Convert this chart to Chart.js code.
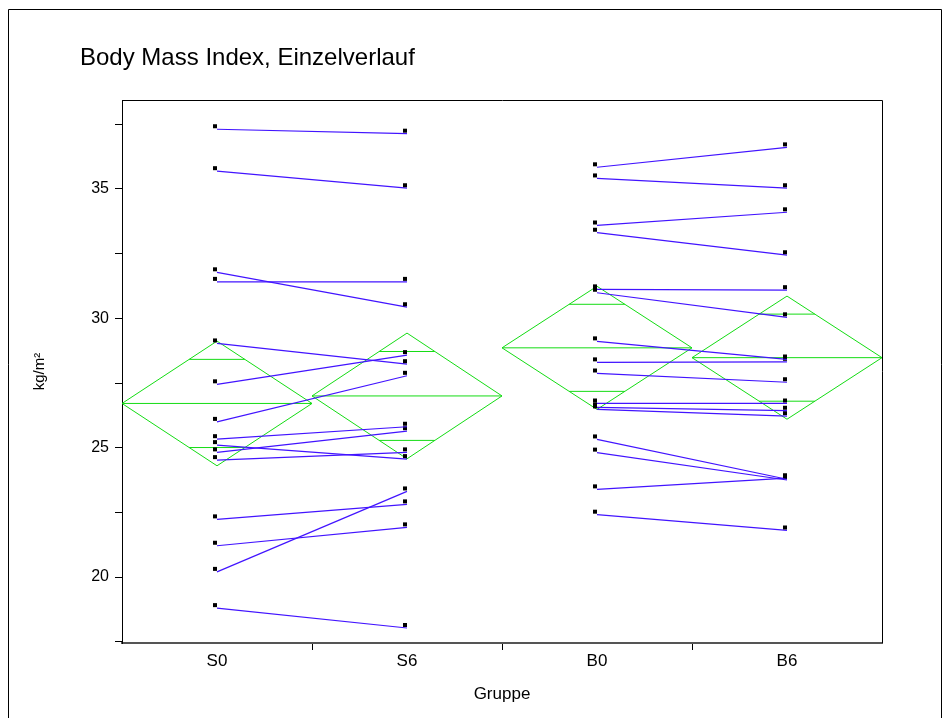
<!DOCTYPE html>
<html>
<head>
<meta charset="utf-8">
<script src="https://cdn.jsdelivr.net/npm/chart.js@4/dist/chart.umd.min.js"></script>
<style>
  html, body { margin: 0; padding: 0; background: #fff; }
  canvas { display: block; }
</style>
</head>
<body>
<canvas id="c" width="946" height="718"></canvas>
<script>
// Group labels along the x axis
const groups = ['S0', 'S6', 'B0', 'B6'];

// Individual BMI values (kg/m²), one entry per subject
const s0 = [37.31, 35.69, 31.78, 31.41, 29.03, 27.45, 26.00, 25.33, 25.10, 24.82, 24.52, 22.23, 21.21, 20.20, 18.80];
const s6 = [37.14, 35.03, 30.43, 31.41, 28.23, 28.58, 27.78, 25.81, 24.56, 25.64, 24.82, 22.81, 21.92, 23.31, 18.03];
const b0 = [35.84, 35.41, 33.59, 33.31, 31.12, 30.99, 29.11, 28.30, 27.87, 26.71, 26.56, 26.48, 25.32, 24.81, 23.39, 22.41];
const b6 = [36.61, 35.03, 34.10, 32.44, 31.09, 30.04, 28.41, 28.32, 27.53, 26.71, 26.43, 26.22, 23.78, 23.75, 23.82, 21.80];

// Group means with 95% confidence limits (means diamonds)
const groupMean = [26.71, 27.00, 28.86, 28.48];
const ciLow     = [24.30, 24.57, 26.48, 26.10];
const ciHigh    = [29.12, 29.43, 31.24, 30.86];

// Axis ticks
const yTicks = [17.5, 20, 22.5, 25, 27.5, 30, 32.5, 35, 37.5];
const yLabelled = [20, 25, 30, 35];
const xTicks = [0.5, 1, 1.5, 2, 2.5, 3, 3.5];

const FONT = "'Liberation Sans', Arial, Helvetica, sans-serif";
const BLUE = '#4214ff';
const GREEN = '#14dc14';

// Small black square marker, drawn slightly up and to the left of its point
const marker = document.createElement('canvas');
marker.width = 12; marker.height = 12;
(function () {
  const m = marker.getContext('2d');
  m.fillStyle = '#000';
  m.fillRect(2, 1, 4, 4);
})();

const datasets = [];

function addPairs(before, after, xa, xb) {
  before.forEach((v, i) => {
    datasets.push({
      data: [{ x: xa, y: v }, { x: xb, y: after[i] }],
      borderColor: BLUE,
      borderWidth: 1.2,
      pointStyle: marker,
      pointRadius: 4,
      order: 1
    });
  });
}
addPairs(s0, s6, 0.5, 1.5);
addPairs(b0, b6, 2.5, 3.5);

// Means diamonds: outline, centre line and overlap marks
groups.forEach((g, i) => {
  const m = groupMean[i], lo = ciLow[i], hi = ciHigh[i];
  datasets.push({
    data: [
      { x: i, y: m }, { x: i + 0.5, y: hi }, { x: i + 1, y: m },
      { x: i + 0.5, y: lo }, { x: i, y: m }, { x: i + 1, y: m }
    ],
    borderColor: GREEN,
    borderWidth: 1,
    pointRadius: 0,
    order: 2
  });
  const half = (hi - lo) / 2;
  const off = half / Math.SQRT2;
  const w = 0.5 * (1 - off / half);
  [m + off, m - off].forEach(yv => {
    datasets.push({
      data: [{ x: i + 0.5 - w, y: yv }, { x: i + 0.5 + w, y: yv }],
      borderColor: GREEN,
      borderWidth: 1,
      pointRadius: 0,
      order: 2
    });
  });
});

const framePlugin = {
  id: 'frame',
  beforeDraw(chart) {
    const ctx = chart.ctx;
    ctx.save();
    ctx.fillStyle = '#fff';
    ctx.fillRect(0, 0, chart.width, chart.height);
    ctx.restore();
  },
  afterDraw(chart) {
    const ctx = chart.ctx;
    const a = chart.chartArea;
    ctx.save();
    ctx.strokeStyle = '#000';
    ctx.lineWidth = 1;
    // top and right edges of the plot box
    ctx.beginPath();
    ctx.moveTo(Math.round(a.left) + 0.5, Math.round(a.top) + 0.5);
    ctx.lineTo(Math.round(a.right) + 0.5, Math.round(a.top) + 0.5);
    ctx.lineTo(Math.round(a.right) + 0.5, Math.round(a.bottom));
    ctx.stroke();
    // outer frame
    ctx.beginPath();
    ctx.moveTo(8.5, 730);
    ctx.lineTo(8.5, 9.5);
    ctx.lineTo(941.5, 9.5);
    ctx.lineTo(941.5, 730);
    ctx.stroke();
    // title
    ctx.fillStyle = '#000';
    ctx.font = '24px ' + FONT;
    ctx.textAlign = 'left';
    ctx.textBaseline = 'middle';
    ctx.fillText('Body Mass Index, Einzelverlauf', 80, 58);
    ctx.restore();
  }
};

new Chart(document.getElementById('c'), {
  type: 'line',
  data: { datasets },
  options: {
    responsive: false,
    animation: false,
    devicePixelRatio: 1,
    layout: { padding: { top: 100, right: 64, left: 0, bottom: 0 } },
    plugins: { legend: { display: false }, tooltip: { enabled: false }, title: { display: false } },
    scales: {
      x: {
        type: 'linear',
        min: 0,
        max: 4,
        afterBuildTicks: s => { s.ticks = xTicks.map(v => ({ value: v })); },
        afterFit: s => { s.height = 75; },
        ticks: {
          autoSkip: false,
          maxRotation: 0,
          padding: 1,
          color: '#000',
          font: { family: FONT, size: 17 },
          callback: v => Number.isInteger(v) ? '' : groups[Math.floor(v)]
        },
        grid: {
          drawOnChartArea: false,
          drawTicks: true,
          tickLength: 7,
          tickWidth: 1,
          tickColor: c => (c.tick && Number.isInteger(c.tick.value)) ? '#000' : 'rgba(0,0,0,0)'
        },
        border: { color: '#555', width: 2 },
        title: {
          display: true,
          text: 'Gruppe',
          color: '#000',
          font: { family: FONT, size: 17 },
          padding: { top: 0, bottom: 13 }
        }
      },
      y: {
        type: 'linear',
        min: 17.45,
        max: 38.44,
        afterBuildTicks: s => { s.ticks = yTicks.map(v => ({ value: v })); },
        afterFit: s => { s.width = 122; },
        ticks: {
          autoSkip: false,
          padding: 6,
          color: '#000',
          font: { family: FONT, size: 16 },
          callback: v => yLabelled.includes(v) ? String(v) : ''
        },
        grid: {
          drawOnChartArea: false,
          drawTicks: true,
          tickLength: 7,
          tickWidth: 1,
          tickColor: '#000'
        },
        border: { color: '#000', width: 1 },
        title: {
          display: true,
          text: 'kg/m²',
          color: '#000',
          font: { family: FONT, size: 15 },
          padding: { top: 31, bottom: 0 }
        }
      }
    }
  },
  plugins: [framePlugin]
});
</script>
</body>
</html>
